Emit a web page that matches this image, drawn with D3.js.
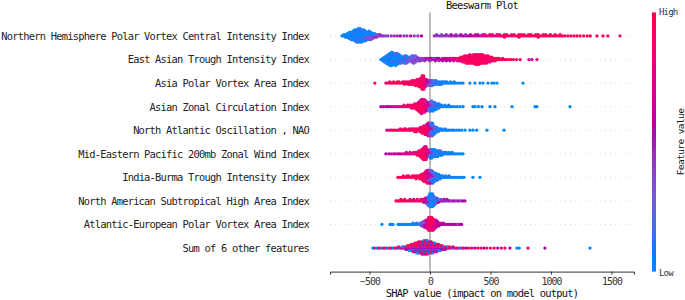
<!DOCTYPE html>
<html><head><meta charset="utf-8">
<script src="https://cdn.jsdelivr.net/npm/d3@7"></script>
<style>body{margin:0;background:#fff} text{font-family:"DejaVu Sans Mono","Liberation Mono",monospace}</style>
</head><body><svg id="c" width="685" height="300"></svg>
<script>
// ---------------- data ----------------
const features = [
  "Northern Hemisphere Polar Vortex Central Intensity Index",
  "East Asian Trough Intensity Index",
  "Asia Polar Vortex Area Index",
  "Asian Zonal Circulation Index",
  "North Atlantic Oscillation , NAO",
  "Mid-Eastern Pacific 200mb Zonal Wind Index",
  "India-Burma Trough Intensity Index",
  "North American Subtropical High Area Index",
  "Atlantic-European Polar Vortex Area Index",
  "Sum of 6 other features"
];
// each entry: [SHAP value, feature levels of the samples at that value (0 = low ... 9 = high)]
const row0 = [[-727,"0"],[-712,"00"],[-697,"001"],[-682,"0100"],[-667,"001000"],[-652,"0010200"],[-637,"00100200"],[-622,"0010020010"],[-607,"00102001002"],[-592,"010020010200"],[-577,"001020010020"],[-562,"01002001020"],[-547,"0102003010"],[-532,"102030201"],[-517,"2130201"],[-502,"21302031"],[-487,"2130302"],[-472,"31403"],[-457,"3140"],[-442,"324"],[-427,"43"],[-412,"34"],[-397,"4"],[-382,"4"],[-365,"3"],[-348,"4"],[-320,"4"],[-295,"4"],[-270,"4"],[-245,"5"],[-215,"4"],[-190,"4"],[-160,"5"],[-130,"4"],[-100,"4"],[-70,"5"],
  [35,"4"],[55,"34"],[75,"4"],[95,"43"],[115,"4"],[135,"34"],[155,"4"],[175,"45"],[195,"4"],[215,"54"],[235,"4"],[255,"45"],[275,"5"],[295,"54"],[315,"5"],[335,"65"],[355,"6"],[375,"56"],[395,"65"],[415,"6"],[435,"76"],[455,"67"],[475,"7"],[495,"78"],[515,"87"],[535,"7"],[555,"88"],[575,"87"],[595,"8"],[615,"898"],[635,"78"],[655,"8"],[675,"98"],[695,"89"],[715,"8"],[735,"989"],[755,"89"],[775,"98"],[795,"9"],[815,"99"],[835,"89"],[855,"9"],[875,"98"],[895,"989"],[915,"9"],[935,"79"],[955,"98"],[975,"9"],[995,"99"],[1015,"9"],[1035,"98"],[1055,"9"],[1075,"89"],[1095,"9"],[1115,"9"],[1140,"9"],[1165,"8"],[1190,"9"],[1215,"9"],[1240,"9"],[1270,"9"],[1300,"9"],[1325,"9"],[1380,"9"],[1430,"9"],[1470,"9"],[1570,"9"]];
const row1 = [[-405,"0"],[-390,"001"],[-375,"00100"],[-360,"0010200"],[-345,"001002010"],[-330,"00100201000"],[-315,"010020010200"],[-300,"0010200100"],[-285,"01002001020"],[-270,"0100200102"],[-255,"01020010"],[-240,"1020102"],[-225,"20102"],[-210,"1203021"],[-195,"2130302"],[-180,"21302"],[-165,"3232"],[-150,"323232"],[-135,"3242323"],[-120,"324233"],[-105,"4333"],[-90,"343"],[-75,"434"],[-60,"34"],[-45,"434"],[-30,"45"],[-15,"44"],[0,"454"],[15,"45"],[30,"54"],[45,"545"],[60,"45"],[75,"554"],[90,"5"],[105,"565"],[120,"56"],[135,"655"],[150,"56"],[165,"665"],[180,"67"],[195,"676"],[210,"76"],[225,"787"],[240,"786"],[255,"8979"],[270,"98798"],[285,"897989"],[300,"9897989"],[315,"8979898"],[330,"98989798"],[345,"8989798"],[360,"98979898"],[375,"898978989"],[390,"989897989"],[405,"898979898"],[420,"98979898"],[435,"89897989"],[450,"9897989"],[465,"8979898"],[480,"989798"],[495,"89798"],[510,"9879"],[525,"898"],[540,"989"],[555,"89"],[570,"98"],[585,"9"],[600,"89"],[615,"9"],[630,"8"],[650,"9"],[670,"9"],[690,"8"],[715,"9"],[745,"8"],[818,"6"],[843,"6"],[884,"8"]];
const row2 = [[-455,"9"],[-364,"9"],[-348,"8"],[-332,"98"],[-316,"9"],[-300,"89"],[-285,"9"],[-270,"98"],[-255,"89"],[-240,"9"],[-225,"98"],[-210,"898"],[-195,"98"],[-180,"989"],[-165,"898"],[-150,"9898"],[-135,"8989"],[-120,"98989"],[-105,"897989"],[-90,"9898979"],[-76,"89898798"],[-64,"989897989898"],[-52,"898979898978"],[-40,"7978698"],[-28,"676576"],[-16,"56453"],[-4,"4534"],[8,"34243"],[20,"23212"],[35,"1212"],[50,"2101"],[65,"012"],[80,"101"],[95,"010"],[110,"01"],[125,"10"],[140,"01"],[155,"0"],[170,"10"],[185,"0"],[200,"01"],[215,"0"],[235,"0"],[255,"1"],[273,"0"],[330,"0"],[372,"0"],[413,"0"],[438,"0"],[479,"0"],[512,"0"],[530,"0"],[554,"0"],[769,"0"]];
const row3 = [[-405,"5"],[-385,"5"],[-365,"6"],[-350,"5"],[-335,"5"],[-320,"6"],[-305,"7"],[-290,"6"],[-275,"7"],[-260,"6"],[-245,"7"],[-230,"8"],[-215,"78"],[-200,"9"],[-185,"87"],[-170,"98"],[-155,"897"],[-140,"989"],[-125,"8979"],[-110,"98978"],[-95,"8979869"],[-82,"989787989"],[-70,"89897989876"],[-58,"9897989876"],[-46,"8979869787"],[-34,"97868758"],[-22,"686574"],[-10,"5746352"],[2,"3524132"],[14,"24131202"],[26,"1312021"],[38,"231201"],[50,"12010"],[62,"2101"],[74,"0120"],[86,"10"],[98,"01"],[110,"0"],[125,"10"],[140,"0"],[155,"01"],[170,"0"],[185,"0"],[205,"0"],[225,"1"],[248,"0"],[273,"0"],[355,"0"],[372,"0"],[400,"0"],[430,"0"],[496,"0"],[537,"0"],[678,"0"],[868,"0"],[884,"0"],[1157,"0"]];
const row4 = [[-355,"6"],[-335,"7"],[-320,"8"],[-305,"9"],[-290,"8"],[-275,"9"],[-260,"7"],[-245,"98"],[-230,"9"],[-215,"79"],[-200,"98"],[-185,"8"],[-170,"97"],[-155,"89"],[-140,"98"],[-125,"989"],[-110,"898"],[-95,"98"],[-80,"9898"],[-65,"89898"],[-52,"989898"],[-40,"8989879"],[-28,"98979868"],[-16,"8979867578"],[-4,"6857463546"],[8,"4635243142"],[20,"3524132031"],[32,"2413021"],[44,"13021"],[56,"0201"],[68,"102"],[80,"01"],[95,"10"],[110,"0"],[125,"01"],[140,"0"],[155,"1"],[170,"0"],[185,"0"],[200,"1"],[220,"0"],[240,"0"],[262,"0"],[290,"0"],[330,"0"],[355,"0"],[386,"0"],[471,"0"],[612,"0"]];
const row5 = [[-364,"5"],[-340,"5"],[-320,"6"],[-300,"5"],[-285,"7"],[-270,"6"],[-255,"5"],[-240,"6"],[-225,"7"],[-210,"6"],[-195,"67"],[-180,"7"],[-165,"68"],[-150,"7"],[-135,"87"],[-120,"78"],[-105,"879"],[-92,"9878"],[-80,"89898"],[-68,"9898979"],[-56,"898979898"],[-44,"9897989898"],[-32,"8979869787"],[-20,"686758"],[-8,"57463"],[4,"3524130"],[16,"2413021"],[28,"130210"],[40,"021010"],[52,"10201"],[64,"02010"],[76,"1010"],[88,"0102"],[100,"010"],[112,"01"],[124,"10"],[136,"01"],[148,"0"],[160,"10"],[172,"0"],[184,"01"],[196,"0"],[210,"1"],[225,"0"],[240,"0"],[256,"0"],[273,"0"]];
const row6 = [[-264,"9"],[-250,"8"],[-235,"9"],[-220,"98"],[-205,"9"],[-190,"89"],[-175,"98"],[-160,"9"],[-145,"89"],[-130,"98"],[-115,"989"],[-100,"89"],[-85,"989"],[-72,"8989"],[-60,"98979"],[-48,"8979898"],[-36,"98798689"],[-24,"8769857698"],[-12,"6857463576"],[0,"5746352463"],[12,"4635241352"],[24,"352413021"],[36,"2413021"],[48,"130210"],[60,"02101"],[72,"1020"],[84,"010"],[96,"10"],[108,"01"],[120,"0"],[132,"10"],[145,"0"],[158,"01"],[172,"0"],[186,"0"],[200,"1"],[215,"0"],[230,"0"],[248,"0"],[265,"0"],[281,"0"],[355,"0"],[413,"0"]];
const row7 = [[-281,"9"],[-268,"8"],[-255,"9"],[-240,"98"],[-225,"9"],[-210,"89"],[-195,"9"],[-180,"8"],[-165,"98"],[-150,"9"],[-135,"87"],[-120,"9"],[-105,"78"],[-90,"8"],[-75,"97"],[-62,"87"],[-50,"786"],[-38,"6757"],[-26,"56453"],[-14,"4352410"],[-2,"2130101020"],[10,"0102010010"],[22,"1020100201"],[34,"0102010"],[46,"20103"],[58,"1024"],[70,"305"],[82,"42"],[94,"53"],[106,"4"],[118,"45"],[130,"4"],[142,"35"],[155,"4"],[168,"5"],[180,"3"],[195,"5"],[210,"4"],[225,"4"],[240,"5"],[255,"3"],[270,"5"],[289,"5"]];
const row8 = [[-397,"0"],[-330,"0"],[-318,"1"],[-306,"0"],[-264,"0"],[-250,"1"],[-235,"0"],[-215,"0"],[-200,"1"],[-185,"0"],[-170,"1"],[-155,"0"],[-140,"10"],[-125,"0"],[-110,"21"],[-95,"0"],[-82,"12"],[-70,"213"],[-58,"3243"],[-46,"42534"],[-34,"536457"],[-22,"6475868"],[-10,"7869879898"],[2,"8979896989"],[14,"9898979878"],[26,"898978698"],[38,"7968786"],[50,"687676"],[62,"6565"],[74,"565"],[86,"56"],[98,"5"],[110,"65"],[125,"5"],[140,"6"],[155,"5"],[170,"5"],[185,"6"],[200,"5"],[215,"5"],[230,"4"],[248,"5"],[262,"5"]];
const row9 = [[-471,"0"],[-455,"9"],[-440,"0"],[-425,"5"],[-410,"9"],[-395,"0"],[-380,"8"],[-365,"5"],[-350,"0"],[-335,"9"],[-320,"7"],[-305,"0"],[-290,"9"],[-275,"5"],[-260,"09"],[-245,"8"],[-230,"50"],[-215,"90"],[-200,"085"],[-185,"9059"],[-170,"08590"],[-155,"905809"],[-140,"0859089"],[-125,"90580958"],[-110,"085909580"],[-95,"9058095809"],[-80,"0859058095"],[-65,"90580958095"],[-50,"085905809580"],[-35,"905809580958"],[-20,"085905809580"],[-5,"9058095809"],[10,"0859058095"],[25,"905809580"],[40,"08590580"],[55,"9058095"],[70,"085905"],[85,"90580"],[100,"0859"],[115,"905"],[130,"085"],[145,"90"],[160,"58"],[175,"9"],[190,"05"],[205,"8"],[220,"9"],[235,"5"],[250,"0"],[265,"8"],[280,"9"],[300,"5"],[320,"8"],[345,"9"],[370,"5"],[395,"9"],[420,"8"],[445,"5"],[470,"9"],[500,"8"],[530,"9"],[560,"5"],[590,"8"],[620,"9"],[661,"5"],[719,"0"],[738,"0"],[810,"9"],[950,"5"],[1322,"0"]];
const rows = [row0,row1,row2,row3,row4,row5,row6,row7,row8,row9];
const xTicks = [-500,0,500,1000,1500];
const titleText = "Beeswarm Plot";
const xLabel = "SHAP value (impact on model output)";
const cbLabels = {high:"High", low:"Low", title:"Feature value"};

// ---------------- drawing ----------------
const svg = d3.select("#c");
svg.append("rect").attr("width",685).attr("height",300).attr("fill","#fff");
const x = d3.scaleLinear().domain([-826,1686]).range([330,634]);
const y = d3.scaleLinear().domain([-1,features.length]).range([12.4,271.6]);

function shapColor(t){
  const h = 266.93 + (380.32-266.93)*t;
  const c = 70 + 20*t;
  const l = t < 0.5 ? 54 - 28*t : 40 + 28*(t-0.5);
  return d3.hcl(h % 360, c, l).formatHex();
}

// row guide lines
svg.append("g").selectAll("line").data(features).join("line")
  .attr("x1",x.range()[0]).attr("x2",x.range()[1])
  .attr("y1",(d,i)=>y(i)).attr("y2",(d,i)=>y(i))
  .attr("stroke","#d4d4d4").attr("stroke-width",0.8).attr("stroke-dasharray","1,4");

// zero line
svg.append("line").attr("x1",x(0)).attr("x2",x(0)).attr("y1",y(-1)).attr("y2",y(features.length))
  .attr("stroke","#999").attr("stroke-width",1.3);

// beeswarm points
const gPts = svg.append("g");
rows.forEach((groups,i)=>{
  const maxOff = d3.max(groups, g => Math.ceil((g[1].length-1)/2));
  const step = 0.9*0.4/(maxOff+1);
  const pts = [];
  groups.forEach(([v,s])=>{
    for(let k=0;k<s.length;k++){
      const off = Math.ceil(k/2)*(k%2 ? 1 : -1);
      pts.push({v, t:(+s[k])/9, r:i - off*step});
    }
  });
  gPts.append("g").selectAll("circle").data(pts).join("circle")
    .attr("cx",d=>x(d.v)).attr("cy",d=>y(d.r)).attr("r",1.65)
    .attr("fill",d=>shapColor(d.t));
});

// feature labels
svg.append("g").selectAll("text").data(features).join("text")
  .attr("x",309).attr("y",(d,i)=>y(i)+3.9).attr("text-anchor","end")
  .attr("font-size",10.4).attr("letter-spacing",-0.76).attr("fill","#222").text(d=>d);

// x axis
const ax = svg.append("g").attr("transform",`translate(0,${y(features.length)})`)
  .call(d3.axisBottom(x).tickValues(xTicks).tickSize(3).tickFormat(d=>d<0?"\u2212"+Math.abs(d):d));
ax.select(".domain").attr("stroke","#333");
ax.selectAll(".tick line").attr("stroke","#333");
ax.selectAll(".tick text").attr("font-size",9.8).attr("letter-spacing",-0.9).attr("fill","#333")
  .attr("font-family","DejaVu Sans Mono").attr("dy",null).attr("y",13.5);

svg.append("text").attr("x",482).attr("y",297).attr("text-anchor","middle")
  .attr("font-size",10.4).attr("letter-spacing",-0.76).attr("fill","#111").text(xLabel);

// title
svg.append("text").attr("x",482).attr("y",8.5).attr("text-anchor","middle")
  .attr("font-size",10.4).attr("letter-spacing",-0.7).attr("fill","#111").text(titleText);

// colorbar
const defs = svg.append("defs");
const grad = defs.append("linearGradient").attr("id","cb").attr("x1",0).attr("y1",1).attr("x2",0).attr("y2",0);
grad.selectAll("stop").data(d3.range(0,1.0001,0.05)).join("stop")
  .attr("offset",d=>d).attr("stop-color",d=>shapColor(d));
svg.append("rect").attr("x",652).attr("y",y(-1)).attr("width",4).attr("height",y(features.length)-y(-1))
  .attr("fill","url(#cb)");
svg.append("text").attr("x",659).attr("y",y(-1)+3).attr("font-size",9).attr("letter-spacing",-0.8)
  .attr("fill","#333").text(cbLabels.high);
svg.append("text").attr("x",659).attr("y",y(features.length)+4).attr("font-size",9).attr("letter-spacing",-0.8)
  .attr("fill","#333").text(cbLabels.low);
svg.append("text").attr("transform","translate(684,142) rotate(-90)").attr("text-anchor","middle")
  .attr("font-size",9.5).attr("letter-spacing",-0.6).attr("fill","#111").text(cbLabels.title);
</script></body></html>
